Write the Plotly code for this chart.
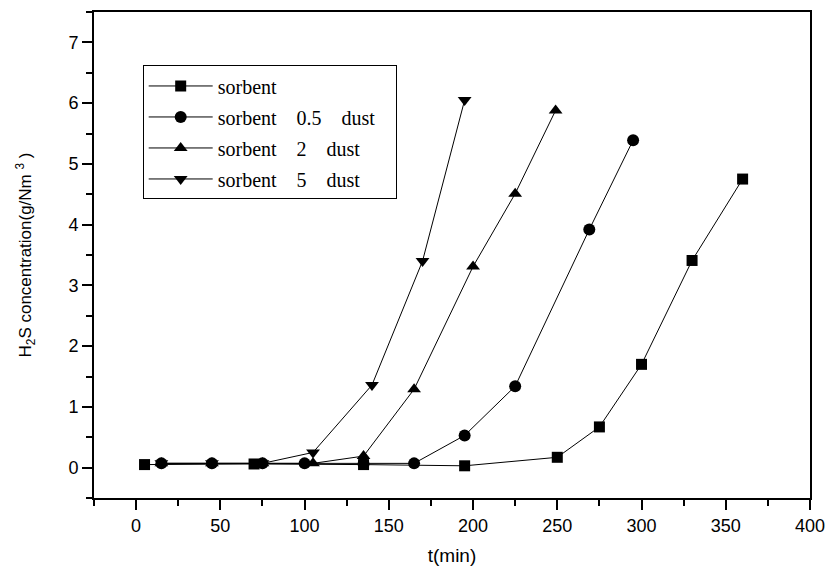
import plotly.graph_objects as go

# Data
t_sorbent = [5, 70, 135, 195, 250, 275, 300, 330, 360]
c_sorbent = [0.05, 0.06, 0.05, 0.03, 0.17, 0.67, 1.70, 3.41, 4.75]

t_d05 = [15, 45, 75, 100, 135, 165, 195, 225, 269, 295]
c_d05 = [0.07, 0.07, 0.07, 0.07, 0.06, 0.07, 0.53, 1.34, 3.92, 5.39]

t_d2 = [15, 45, 75, 105, 135, 165, 200, 225, 249]
c_d2 = [0.07, 0.07, 0.07, 0.07, 0.19, 1.29, 3.31, 4.51, 5.88]

t_d5 = [15, 45, 75, 105, 140, 170, 195]
c_d5 = [0.07, 0.07, 0.07, 0.25, 1.36, 3.40, 6.05]

NB = "\u00a0"
names = ["sorbent",
         "sorbent" + NB * 4 + "0.5" + NB * 4 + "dust" + NB * 3,
         "sorbent" + NB * 4 + "2" + NB * 4 + "dust",
         "sorbent" + NB * 4 + "5" + NB * 4 + "dust"]
symbols = ["square", "circle", "triangle-up", "triangle-down"]
xs = [t_sorbent, t_d05, t_d2, t_d5]
ys = [c_sorbent, c_d05, c_d2, c_d5]
sizes = [11, 12, 12, 12]

fig = go.Figure()
for i in range(4):
    fig.add_trace(go.Scatter(
        x=xs[i], y=ys[i], name=names[i], mode="lines+markers",
        line=dict(color="black", width=1),
        marker=dict(symbol=symbols[i], size=sizes[i], color="black"),
        legendgroup=f"g{i}",
    ))

sans = "Liberation Sans, Arial"
axis_common = dict(
    showline=True, linecolor="black", linewidth=2, mirror=True,
    ticks="outside", ticklen=10, tickwidth=2, tickcolor="black",
    showgrid=False, zeroline=False,
    tickfont=dict(family=sans, size=18, color="black"),
)

fig.update_xaxes(
    range=[-25, 400], tickmode="array",
    tickvals=[0, 50, 100, 150, 200, 250, 300, 350, 400],
    minor=dict(ticks="outside", ticklen=6, tickwidth=2, tickcolor="black",
               tick0=-25, dtick=50, showgrid=False),
    title=dict(text="t(min)", font=dict(family=sans, size=19, color="black"),
               standoff=14),
    **axis_common,
)
fig.update_yaxes(
    range=[-0.5, 7.5], tickmode="array",
    tickvals=[0, 1, 2, 3, 4, 5, 6, 7],
    minor=dict(ticks="outside", ticklen=6, tickwidth=2, tickcolor="black",
               tick0=0.5, dtick=1, showgrid=False),
    title=dict(text="H<sub>2</sub>S concentration(g/Nm <sup>3</sup> )",
               font=dict(family=sans, size=17, color="black"),
               standoff=32),
    **axis_common,
)

fig.update_layout(
    width=835, height=578,
    margin=dict(l=94, r=21, t=10, b=80),
    plot_bgcolor="white", paper_bgcolor="white",
    showlegend=True,
    legend=dict(
        x=0.068, y=0.89, xanchor="left", yanchor="top",
        bordercolor="black", borderwidth=1, bgcolor="white",
        font=dict(family="Liberation Serif, Times New Roman", size=20, color="black"),
        traceorder="grouped", tracegroupgap=2,
        itemwidth=64,
    ),
)

fig.write_html("out.html")
